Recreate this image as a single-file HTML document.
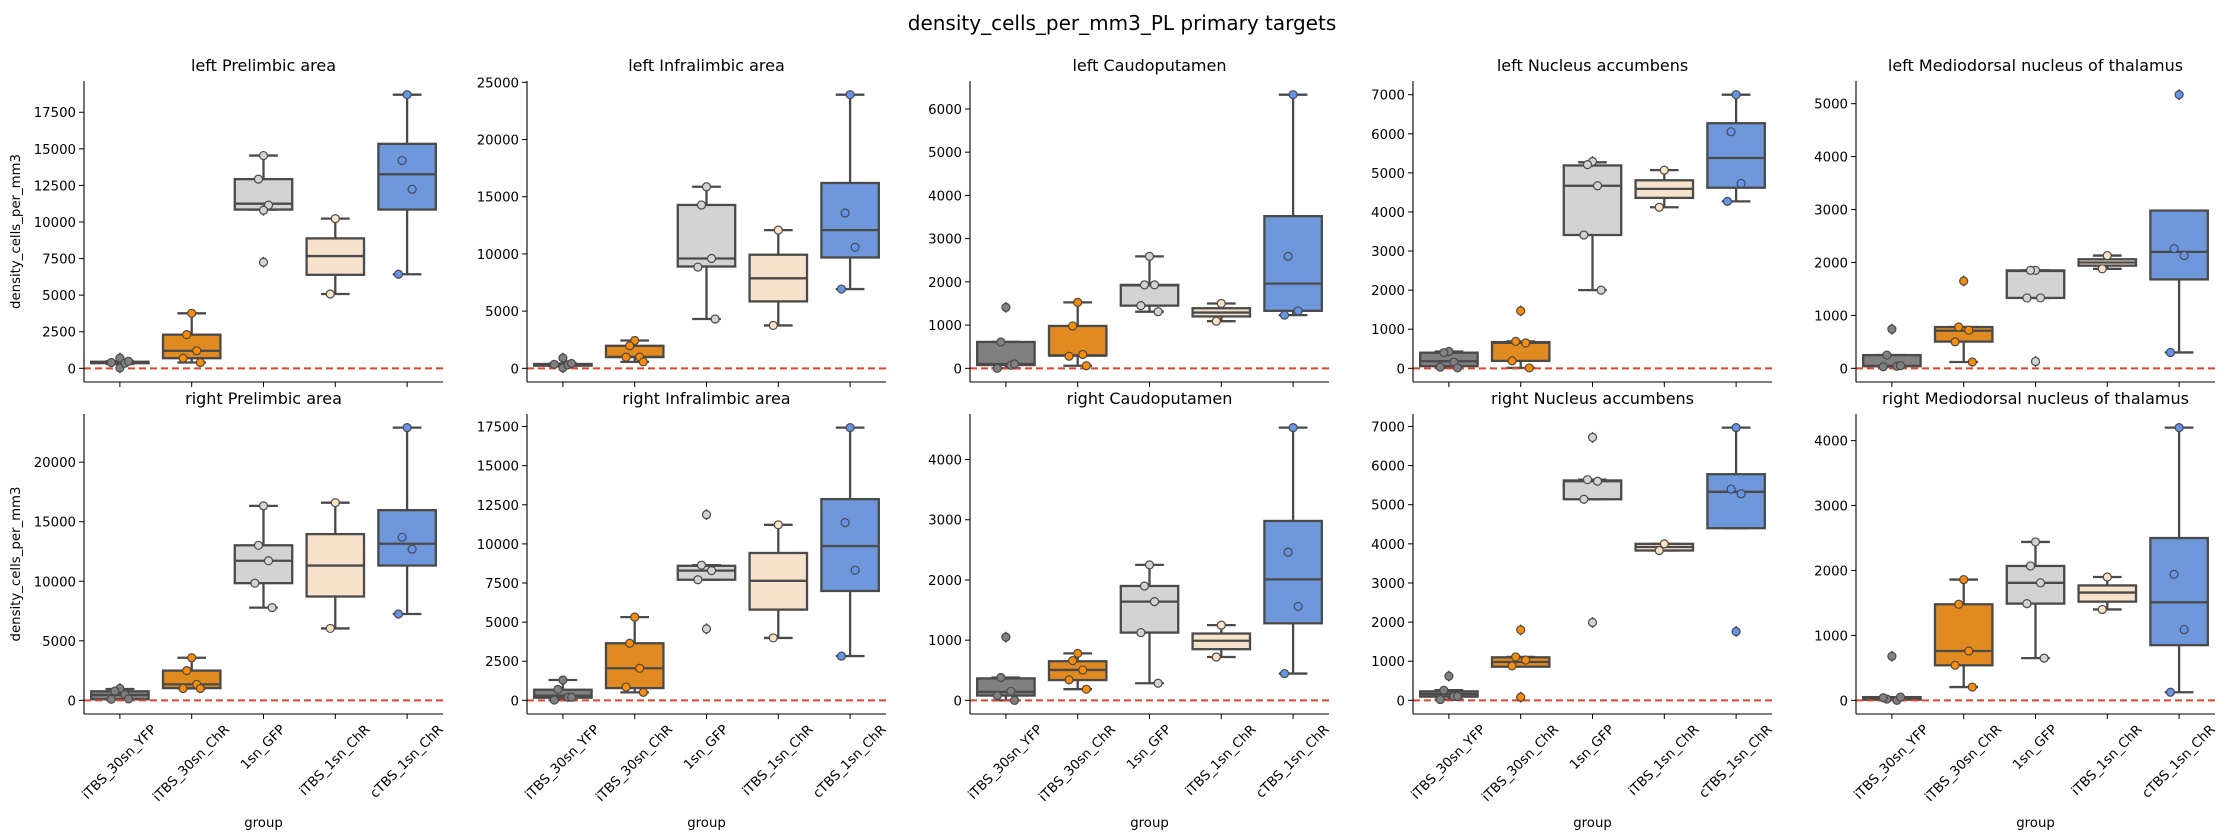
<!DOCTYPE html>
<html><head><meta charset="utf-8"><style>
body{margin:0;background:#fff}
svg{display:block;font-family:"DejaVu Sans","Liberation Sans",sans-serif}
</style></head><body>
<svg id="fig" width="2230" height="836" viewBox="0 0 2230 836" xmlns="http://www.w3.org/2000/svg">
<rect width="2230" height="836" fill="#fff"/>
<text x="1122" y="30" font-size="20" text-anchor="middle" fill="#000">density_cells_per_mm3_PL primary targets</text>
</svg>
<script>
const categories = ["iTBS_30sn_YFP","iTBS_30sn_ChR","1sn_GFP","iTBS_1sn_ChR","cTBS_1sn_ChR"];
const titles = ["left Prelimbic area","left Infralimbic area","left Caudoputamen","left Nucleus accumbens","left Mediodorsal nucleus of thalamus",
"right Prelimbic area","right Infralimbic area","right Caudoputamen","right Nucleus accumbens","right Mediodorsal nucleus of thalamus"];
const ticksLPL=[0,2500,5000,7500,10000,12500,15000,17500];
const ticksLIL=[0,5000,10000,15000,20000,25000];
const ticksLCP=[0,1000,2000,3000,4000,5000,6000];
const ticksLNA=[0,1000,2000,3000,4000,5000,6000,7000];
const ticksLMD=[0,1000,2000,3000,4000,5000];
const ticksRPL=[0,5000,10000,15000,20000];
const ticksRIL=[0,2500,5000,7500,10000,12500,15000,17500];
const ticksRCP=[0,1000,2000,3000,4000];
const ticksRNA=[0,1000,2000,3000,4000,5000,6000,7000];
const ticksRMD=[0,1000,2000,3000,4000];
// box stats: [lower whisker, q1, median, q3, upper whisker]
const statsLPL=[[300,350,400,450,480],[400,690,1200,2300,3760],[10850,10850,11250,12930,14540],[5080,6390,7670,8880,10230],[6430,10850,13260,15340,18700]];
const pointsLPL=[[700,30,350,400,480],[3760,2300,1200,690,400],[14540,12930,11150,10800,7250],[10230,5080],[18700,14200,12240,6430]];
const statsLIL=[[200,230,300,380,420],[560,980,1000,1970,2430],[4310,8900,9600,14280,15870],[3750,5850,7870,9930,12080],[6930,9690,12080,16200,23920]];
const pointsLIL=[[900,50,300,350,420],[2430,1970,980,980,560],[15870,14280,9600,8850,4310],[12080,3750],[23920,13580,10580,6930]];
const statsLCP=[[0,75,100,610,610],[60,300,290,980,1525],[1310,1450,1920,1930,2590],[1090,1200,1290,1390,1500],[1230,1330,1960,3520,6330]];
const pointsLCP=[[1410,610,70,0,100],[1525,980,320,280,60],[2590,1930,1930,1450,1310],[1500,1090],[6330,2590,1330,1230]];
const statsLNA=[[10,55,180,400,430],[10,190,650,670,690],[2000,3410,4670,5190,5270],[4120,4360,4590,4810,5070],[4270,4620,5380,6270,7000]];
const pointsLNA=[[430,400,160,30,10],[1470,690,650,190,10],[5290,5210,4670,3410,2000],[5070,4120],[7000,6050,4730,4270]];
const statsLMD=[[30,40,45,250,250],[120,505,710,780,780],[1330,1330,1840,1850,1850],[1880,1940,2000,2060,2130],[300,1680,2200,2980,2980]];
const pointsLMD=[[740,250,40,30,50],[1650,780,720,500,120],[1850,1850,1330,1330,130],[2130,1880],[5170,2260,2130,300]];
const statsRPL=[[90,90,450,760,950],[1000,1030,1340,2500,3580],[7790,9840,11720,13020,16330],[6040,8720,11320,13960,16600],[7250,11320,13150,15970,22900]];
const pointsRPL=[[1000,780,480,90,120],[3580,2500,1340,1000,1000],[16330,13020,11720,9840,7790],[16600,6040],[22900,13700,12700,7250]];
const statsRIL=[[20,170,300,680,1300],[510,785,2050,3650,5320],[7710,7710,8290,8600,8640],[3990,5800,7640,9420,11220],[2830,6990,9860,12860,17430]];
const pointsRIL=[[1300,700,200,20,200],[5320,3650,2050,850,510],[11870,8640,8290,7710,4570],[11220,3990],[17430,11360,8320,2830]];
const statsRCP=[[0,80,140,365,380],[186,337,505,650,780],[284,1126,1640,1900,2250],[720,850,990,1110,1250],[445,1280,2010,2980,4530]];
const pointsRCP=[[1050,380,150,80,0],[780,660,505,340,186],[2250,1900,1640,1126,284],[1250,720],[4530,2460,1560,445]];
const statsRNA=[[20,95,160,230,260],[880,860,980,1100,1110],[5140,5140,5600,5620,5640],[3830,3830,3920,4000,4000],[4400,4400,5330,5780,6970]];
const pointsRNA=[[620,260,100,20,100],[1800,1110,1030,880,80],[6720,5640,5600,5140,1990],[4000,3830],[6970,5400,5280,1760]];
const statsRMD=[[0,10,30,50,50],[205,540,760,1480,1860],[650,1490,1810,2070,2440],[1400,1520,1660,1770,1900],[125,850,1510,2500,4200]];
const pointsRMD=[[680,20,0,40,50],[1860,1480,760,540,205],[2440,2070,1810,1490,650],[1900,1400],[4200,1940,1090,125]];

const panelTicks=[ticksLPL,ticksLIL,ticksLCP,ticksLNA,ticksLMD,ticksRPL,ticksRIL,ticksRCP,ticksRNA,ticksRMD];
const panelStats=[statsLPL,statsLIL,statsLCP,statsLNA,statsLMD,statsRPL,statsRIL,statsRCP,statsRNA,statsRMD];
const panelPoints=[pointsLPL,pointsLIL,pointsLCP,pointsLNA,pointsLMD,pointsRPL,pointsRIL,pointsRCP,pointsRNA,pointsRMD];

const boxFill=["#808080","#e08a1f","#d3d3d3","#f7e3cc","#6f98dc"];
const ptFill=["#808080","#ff8c00","#d3d3d3","#ffe4c4","#6495ed"];
const edge="#4a4a4a";
const jitter=[0,-0.07,0.07,-0.12,0.12];
const NS="http://www.w3.org/2000/svg";
const svg=document.getElementById('fig');
function mk(tag,attrs,parent){const e=document.createElementNS(NS,tag);for(const k in attrs)e.setAttribute(k,attrs[k]);(parent||svg).appendChild(e);return e;}
const colX=[84,527,970,1413,1856], W=359;
const rowY=[[81,382],[414,714]];
function fmt(v){return String(v);}
for(let p=0;p<10;p++){
  const r=Math.floor(p/5), c=p%5;
  const x0=colX[c], x1=x0+W, yT=rowY[r][0], yB=rowY[r][1];
  const g=mk('g',{});
  
  
  const st=panelStats[p], pts=panelPoints[p];
  let lo=0,hi=-Infinity;
  st.forEach(s=>s.forEach(v=>{lo=Math.min(lo,v);hi=Math.max(hi,v);}));
  pts.forEach(a=>a.forEach(v=>{lo=Math.min(lo,v);hi=Math.max(hi,v);}));
  const pad=0.05*(hi-lo); const ymin=lo-pad, ymax=hi+pad;
  const ys=v=>yB-(v-ymin)/(ymax-ymin)*(yB-yT);
  const step=W/5; const xs=i=>x0+step*(i+0.5);
  const t=mk('text',{x:(x0+x1)/2,y:yT-10,'font-size':16,'text-anchor':'middle',fill:'#000'},g);
  t.textContent=titles[p];
  
  
  panelTicks[p].forEach(v=>{
    const y=ys(v);
    mk('line',{x1:x0-5,x2:x0,y1:y,y2:y,stroke:'#000','stroke-width':1},g);
    const tl=mk('text',{x:x0-8,y:y+5,'font-size':13.3,'text-anchor':'end',fill:'#000'},g);
    tl.textContent=fmt(v);
    
    
  });
  st.forEach((s,i)=>{
    const cx=xs(i), bw=step*0.8, cw=step*0.4;
    const bg=mk('g',{},g);
    
    
    mk('line',{x1:cx,x2:cx,y1:ys(s[0]),y2:ys(s[1]),stroke:edge,'stroke-width':2.3},bg);
    mk('line',{x1:cx,x2:cx,y1:ys(s[3]),y2:ys(s[4]),stroke:edge,'stroke-width':2.3},bg);
    mk('line',{x1:cx-cw/2,x2:cx+cw/2,y1:ys(s[0]),y2:ys(s[0]),stroke:edge,'stroke-width':2.3},bg);
    mk('line',{x1:cx-cw/2,x2:cx+cw/2,y1:ys(s[4]),y2:ys(s[4]),stroke:edge,'stroke-width':2.3},bg);
    const top=ys(s[3]), bot=ys(s[1]);
    mk('rect',{x:cx-bw/2,y:top,width:bw,height:Math.max(bot-top,0.5),fill:boxFill[i],stroke:edge,'stroke-width':2.3},bg);
    mk('line',{x1:cx-bw/2,x2:cx+bw/2,y1:ys(s[2]),y2:ys(s[2]),stroke:edge,'stroke-width':2.3},bg);
  });
  const zl=mk('line',{x1:x0,x2:x1,y1:ys(0),y2:ys(0),stroke:'#e8412a','stroke-width':2,'stroke-dasharray':'7,4'},g);
  
  
  pts.forEach((arr,i)=>{
    const s=st[i];
    arr.forEach((v,k)=>{
      const out=(v>s[4]+1||v<s[0]-1);
      const cx=xs(i)+(out?0:jitter[k%jitter.length]*step), cy=ys(v);
      if(out){
        const d=mk('path',{d:`M${xs(i)} ${cy-5}L${xs(i)+4} ${cy}L${xs(i)} ${cy+5}L${xs(i)-4} ${cy}Z`,fill:edge,stroke:edge,'stroke-width':1},g);
        
        
      }
      const c=mk('circle',{cx:cx,cy:cy,r:4,fill:ptFill[i],stroke:edge,'stroke-width':1.2},g);
      
      
    });
  });
  mk('line',{x1:x0,x2:x0,y1:yT,y2:yB,stroke:'#000','stroke-width':1.1},g);
  mk('line',{x1:x0,x2:x1,y1:yB,y2:yB,stroke:'#000','stroke-width':1.1},g);
  categories.forEach((cat,i)=>{
    mk('line',{x1:xs(i),x2:xs(i),y1:yB,y2:yB+5,stroke:'#000','stroke-width':1},g);
    if(r===1){
      const tl=mk('text',{'font-size':13.3,'text-anchor':'middle','dominant-baseline':'central',fill:'#000'},g);
      tl.textContent=cat;
      
      
      const L=tl.getComputedTextLength(), h=13.3;
      const bh=(L+h)/Math.SQRT2;
      const cy=yB+9+bh/2;
      tl.setAttribute('x',xs(i)); tl.setAttribute('y',cy);
      tl.setAttribute('transform',`rotate(-45 ${xs(i)} ${cy})`);
    }
  });
  if(r===1){
    const xl=mk('text',{x:(x0+x1)/2,y:827,'font-size':13.3,'text-anchor':'middle',fill:'#000'},g);
    xl.textContent='group';
    
    
  }
  if(c===0){
    const yc=(yT+yB)/2;
    const yl=mk('text',{x:20,y:yc,'font-size':13.3,'text-anchor':'middle',fill:'#000',transform:`rotate(-90 20 ${yc})`},g);
    yl.textContent='density_cells_per_mm3';
    
    
  }
}
</script>
</body></html>
